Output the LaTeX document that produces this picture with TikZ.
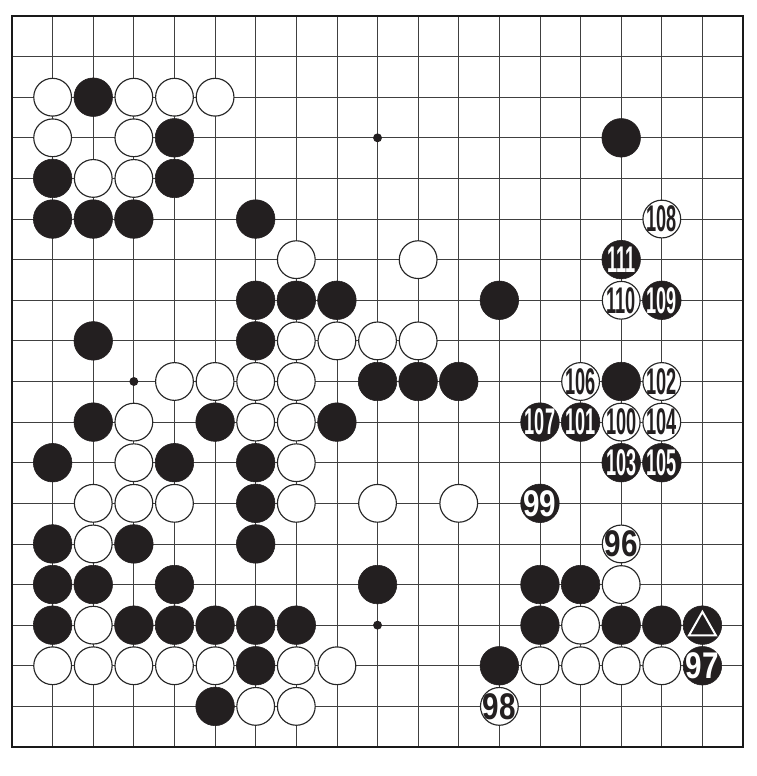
\documentclass[tikz,border=0pt]{standalone}
\usepackage{fontspec}
\setmainfont{Liberation Sans}
\definecolor{stoneblack}{HTML}{231F20}
\newcommand{\stoneNumThree}[1]{\scalebox{0.49}[1]{#1}}
\newcommand{\stoneNumTwo}[1]{\scalebox{0.8}[1]{#1}}
\begin{document}
\begin{tikzpicture}[x=1cm,y=1cm,
  gridline/.style={draw=black!75, line width=0.55pt},
  frameline/.style={draw=black!90, line width=1.3pt},
  bs/.style={circle, fill=stoneblack, draw=stoneblack, line width=0.4pt, minimum size=0.95cm, inner sep=0pt},
  ws/.style={circle, fill=white, draw=black!85, line width=0.8pt, minimum size=0.93cm, inner sep=0pt},
  starpt/.style={circle, fill=stoneblack, minimum size=0.22cm, inner sep=0pt},
  numtxt/.style={inner sep=0pt, font=\fontsize{26}{26}\selectfont\bfseries},
  wnum/.style={numtxt, text=stoneblack},
  bnum/.style={numtxt, text=white},
  tri/.style={draw=white, line width=1.4pt, line join=miter}
]
\useasboundingbox (-0.296,-0.714) rectangle (18.32,18.394);
\fill[white] (-0.296,-0.714) rectangle (18.32,18.394);
% grid
\foreach \i in {1,...,17} {
  \draw[gridline] (\i,0) -- (\i,18);
  \draw[gridline] (0,\i) -- (18,\i);
}
\draw[frameline] (0,0) rectangle (18,18);
% star points
\foreach \c/\r in {9/3,3/9,9/15}
  \node[starpt] (hp\c-\r) at (\c,18-\r) {};
% black stones
\foreach \c/\r in {2/2,4/3,15/3,1/4,4/4,1/5,2/5,3/5,6/5,6/7,7/7,8/7,12/7,2/8,6/8,
  9/9,10/9,11/9,15/9,2/10,5/10,8/10,1/11,4/11,6/11,6/12,1/13,3/13,6/13,
  1/14,2/14,4/14,9/14,13/14,14/14,1/15,3/15,4/15,5/15,6/15,7/15,13/15,15/15,16/15,
  6/16,12/16,5/17}
  \node[bs] (b\c-\r) at (\c,18-\r) {};
% white stones
\foreach \c/\r in {1/2,3/2,4/2,5/2,1/3,3/3,2/4,3/4,7/6,10/6,7/8,8/8,9/8,10/8,
  4/9,5/9,6/9,7/9,3/10,6/10,7/10,3/11,7/11,2/12,3/12,4/12,7/12,9/12,11/12,
  2/13,15/14,2/15,14/15,1/16,2/16,3/16,4/16,5/16,7/16,8/16,13/16,14/16,15/16,16/16,
  6/17,7/17}
  \node[ws] (w\c-\r) at (\c,18-\r) {};
% numbered white stones
\foreach \n/\c/\r in {108/16/5,110/15/7,106/14/9,102/16/9,100/15/10,104/16/10}{
  \node[ws] (s\n) at (\c,18-\r) {};
  \node[wnum] (t\n) at (s\n) {\stoneNumThree{\n}};
}
\foreach \n/\c/\r in {96/15/13,98/12/17}{
  \node[ws] (s\n) at (\c,18-\r) {};
  \node[wnum] (t\n) at (s\n) {\stoneNumTwo{\n}};
}
% numbered black stones
\foreach \n/\c/\r in {111/15/6,109/16/7,107/13/10,101/14/10,103/15/11,105/16/11}{
  \node[bs] (s\n) at (\c,18-\r) {};
  \node[bnum] (t\n) at (s\n) {\stoneNumThree{\n}};
}
\foreach \n/\c/\r in {99/13/12,97/17/16}{
  \node[bs] (s\n) at (\c,18-\r) {};
  \node[bnum] (t\n) at (s\n) {\stoneNumTwo{\n}};
}
% marked black stone
\node[bs] (smark) at (17,3) {};
\draw[tri] ([shift={(0,0.33)}]smark.center) -- ([shift={(0.33,-0.25)}]smark.center)
  -- ([shift={(-0.33,-0.25)}]smark.center) -- cycle;
\end{tikzpicture}
\end{document}
